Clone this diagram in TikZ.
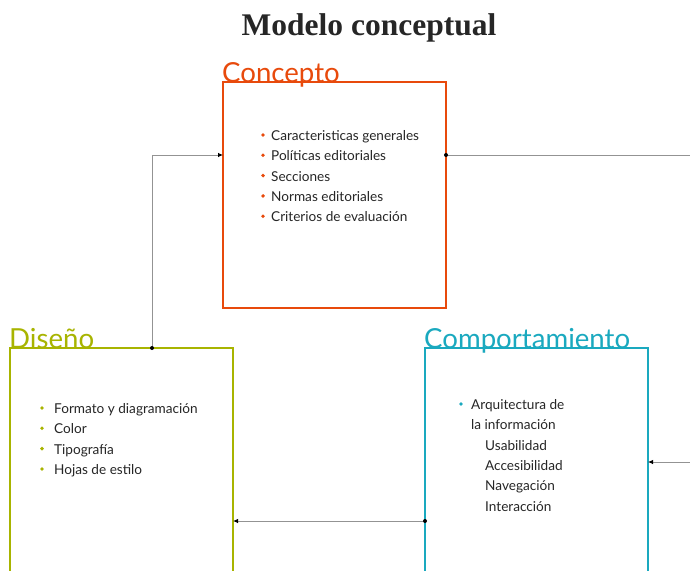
\documentclass[tikz,border=0pt]{standalone}
\usepackage{fontspec}
\setmainfont{Lato}
\newfontfamily\titlefont{Liberation Serif}
\usetikzlibrary{arrows.meta,calc}

\definecolor{naranja}{HTML}{E84A0C}
\definecolor{oliva}{HTML}{A8B400}
\definecolor{turquesa}{HTML}{1AA9BF}

\tikzset{
  caja/.style={draw=#1, line width=2.6pt, minimum width=223pt, minimum height=226pt,
    anchor=north west, inner sep=0pt, outer sep=0pt},
  rotulo/.style={text=#1, font=\fontsize{27.6}{32}\selectfont, anchor=base west, inner sep=0pt},
  conector/.style={draw=gray!85, line width=0.8pt, -{Latex[length=5pt,width=4.5pt,color=black]}},
  item/.style={font=\fontsize{13.6}{16}\selectfont, anchor=west, inner sep=0pt,
    text height=10pt, text depth=3pt, text=black!85},
}

\begin{document}
\begin{tikzpicture}[x=1pt,y=-1pt]
  \clip (0,0) rectangle (690,570);
  \fill[white] (0,0) rectangle (690,570);

  % titulo
  \node[font=\titlefont\bfseries\fontsize{31.5}{36}\selectfont, anchor=base, text=black!85] (titulo) at (369,35) {Modelo conceptual};

  % cajas
  \node[caja=naranja] (concepto) at (223,82) {};
  \node[caja=oliva, minimum height=250pt] (diseno) at (10,348) {};
  \node[caja=turquesa, minimum height=250pt] (comportamiento) at (425,348) {};

  \node[rotulo=naranja] (t-concepto) at (222,82) {Concepto};
  \node[rotulo=oliva] (t-diseno) at (9,348) {Diseño};
  \node[rotulo=turquesa] (t-comportamiento) at (424,348) {Comportamiento};

  % listas
  \foreach \txt [count=\i] in {Caracteristicas generales, Políticas editoriales, Secciones,
      Normas editoriales, Criterios de evaluación} {
    \fill[naranja] (263,{135+20.3*(\i-1)}) circle (1.9pt);
    \node[item] (c\i) at (271,{137+20.3*(\i-1)}) {\txt};
  }
  \foreach \txt [count=\i] in {Formato y diagramación, Color, Tipografía, Hojas de estilo} {
    \fill[oliva] (42,{408+20.3*(\i-1)}) circle (1.9pt);
    \node[item] (d\i) at (54,{410+20.3*(\i-1)}) {\txt};
  }
  \fill[turquesa] (461,404) circle (1.9pt);
  \node[item] (p1) at (471,406) {Arquitectura de};
  \node[item] (p2) at (471,426.3) {la información};
  \foreach \txt [count=\i from 3] in {Usabilidad, Accesibilidad, Navegación, Interacción} {
    \node[item] (p\i) at (485,{446.6+20.3*(\i-3)}) {\txt};
  }

  % conectores
  \coordinate (d-sal) at ([xshift=142pt]diseno.north west);
  \coordinate (c-ent) at ([yshift=-73pt]concepto.north west);
  \coordinate (c-sal) at ([yshift=-73pt]concepto.north east);
  \coordinate (borde-a) at (700,155);
  \coordinate (borde-b) at (700,462);
  \coordinate (p-ent) at ([yshift=-114pt]comportamiento.north east);
  \coordinate (p-sal) at ([yshift=-173pt]comportamiento.north west);
  \coordinate (d-ent) at ([yshift=-173pt]diseno.north east);

  \draw[conector] (d-sal) |- (c-ent);
  \draw[conector, -] (c-sal) -- (borde-a);
  \draw[conector] (borde-b) -- (p-ent);
  \draw[conector] (p-sal) -- (d-ent);
  \foreach \p in {d-sal, c-sal, p-sal} \fill (\p) circle (2pt);
\end{tikzpicture}
\end{document}
